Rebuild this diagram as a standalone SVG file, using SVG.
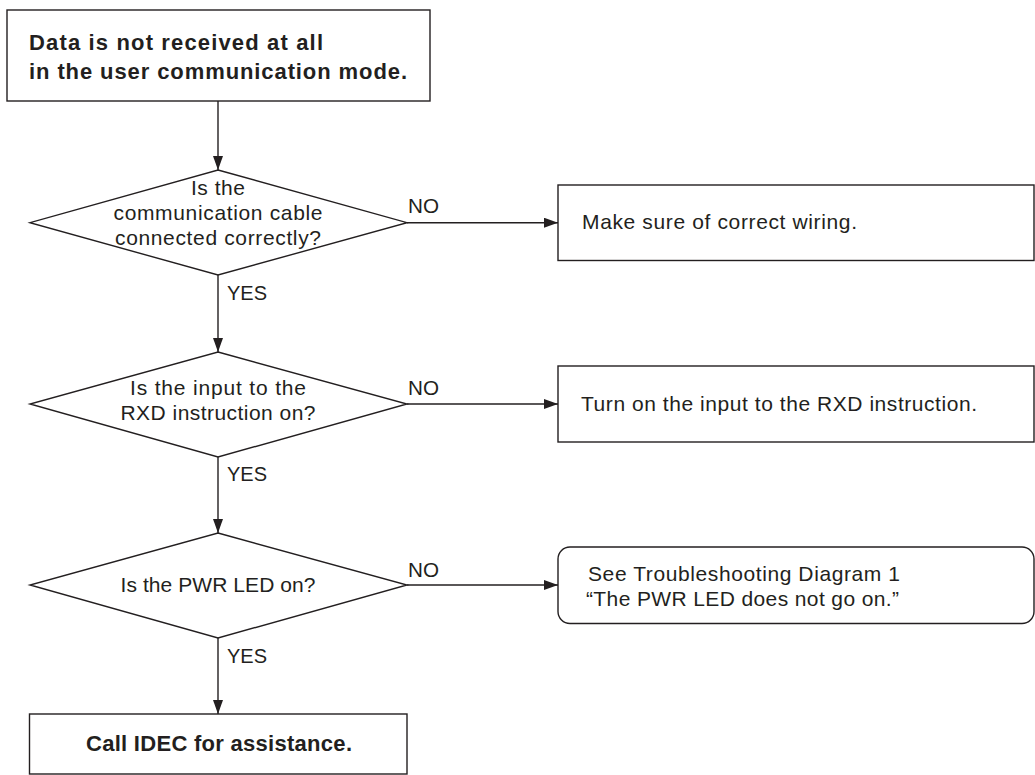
<svg xmlns="http://www.w3.org/2000/svg" width="1035" height="775" viewBox="0 0 1035 775">
  <defs>
    <marker id="arrow" markerUnits="userSpaceOnUse" markerWidth="15" markerHeight="11" refX="14" refY="5" orient="auto">
      <path d="M0,0 L14,5 L0,10 Z" fill="#231f20"/>
    </marker>
    <style>
      .shape { fill: #ffffff; stroke: #231f20; stroke-width: 1.4; }
      .conn { fill: none; stroke: #231f20; stroke-width: 1.4; marker-end: url(#arrow); }
      .t { font-family: "Liberation Sans", Arial, sans-serif; font-size: 21px; fill: #231f20; }
      .b { font-family: "Liberation Sans", Arial, sans-serif; font-size: 22px; font-weight: bold; fill: #231f20; }
      .mid { text-anchor: middle; }
    </style>
  </defs>
  <rect width="1035" height="775" fill="#ffffff"/>

  <g id="connectors">
    <line class="conn" x1="218" y1="101" x2="218" y2="170"/>
    <line class="conn" x1="218" y1="275" x2="218" y2="352"/>
    <line class="conn" x1="218" y1="457" x2="218" y2="533"/>
    <line class="conn" x1="218" y1="638" x2="218" y2="714"/>
    <line class="conn" x1="407" y1="222.7" x2="558" y2="222.7"/>
    <line class="conn" x1="407" y1="404" x2="558" y2="404"/>
    <line class="conn" x1="407" y1="585" x2="558" y2="585"/>
    <text class="t" x="408" y="213" textLength="31" lengthAdjust="spacingAndGlyphs">NO</text>
    <text class="t" x="227" y="300" textLength="40" lengthAdjust="spacingAndGlyphs">YES</text>
    <text class="t" x="408" y="395" textLength="31" lengthAdjust="spacingAndGlyphs">NO</text>
    <text class="t" x="227" y="481" textLength="40" lengthAdjust="spacingAndGlyphs">YES</text>
    <text class="t" x="408" y="577" textLength="31" lengthAdjust="spacingAndGlyphs">NO</text>
    <text class="t" x="227" y="663" textLength="40" lengthAdjust="spacingAndGlyphs">YES</text>
  </g>

  <g id="start">
    <rect class="shape" x="7" y="10" width="423" height="91"/>
    <text class="b" x="29" y="50" textLength="294" lengthAdjust="spacing">Data is not received at all</text>
    <text class="b" x="29" y="79" textLength="378" lengthAdjust="spacing">in the user communication mode.</text>
  </g>

  <g id="q1">
    <polygon class="shape" points="218,170 407,222.7 218,275 30,222.7"/>
    <text class="t mid" x="218" y="195" textLength="54" lengthAdjust="spacing">Is the</text>
    <text class="t mid" x="218" y="220" textLength="209" lengthAdjust="spacing">communication cable</text>
    <text class="t mid" x="218" y="245" textLength="206" lengthAdjust="spacing">connected correctly?</text>
  </g>

  <g id="a1">
    <rect class="shape" x="558" y="185" width="476" height="75.5"/>
    <text class="t" x="582" y="229" textLength="275" lengthAdjust="spacing">Make sure of correct wiring.</text>
  </g>

  <g id="q2">
    <polygon class="shape" points="218,352 407,404 218,457 30,404"/>
    <text class="t mid" x="218" y="395" textLength="176" lengthAdjust="spacing">Is the input to the</text>
    <text class="t mid" x="218" y="420" textLength="195" lengthAdjust="spacing">RXD instruction on?</text>
  </g>

  <g id="a2">
    <rect class="shape" x="558" y="366" width="476" height="76"/>
    <text class="t" x="581" y="411" textLength="396" lengthAdjust="spacing">Turn on the input to the RXD instruction.</text>
  </g>

  <g id="q3">
    <polygon class="shape" points="218,533 407,585 218,638 30,585"/>
    <text class="t mid" x="218" y="592" textLength="195" lengthAdjust="spacing">Is the PWR LED on?</text>
  </g>

  <g id="a3">
    <rect class="shape" x="558" y="547" width="476" height="76.5" rx="12" ry="12"/>
    <text class="t" x="588" y="581" textLength="312" lengthAdjust="spacing">See Troubleshooting Diagram 1</text>
    <text class="t" x="586" y="606" textLength="313" lengthAdjust="spacing">“The PWR LED does not go on.”</text>
  </g>

  <g id="end">
    <rect class="shape" x="29.5" y="714" width="377.5" height="60"/>
    <text class="b mid" x="219" y="751" textLength="266" lengthAdjust="spacing">Call IDEC for assistance.</text>
  </g>
</svg>
